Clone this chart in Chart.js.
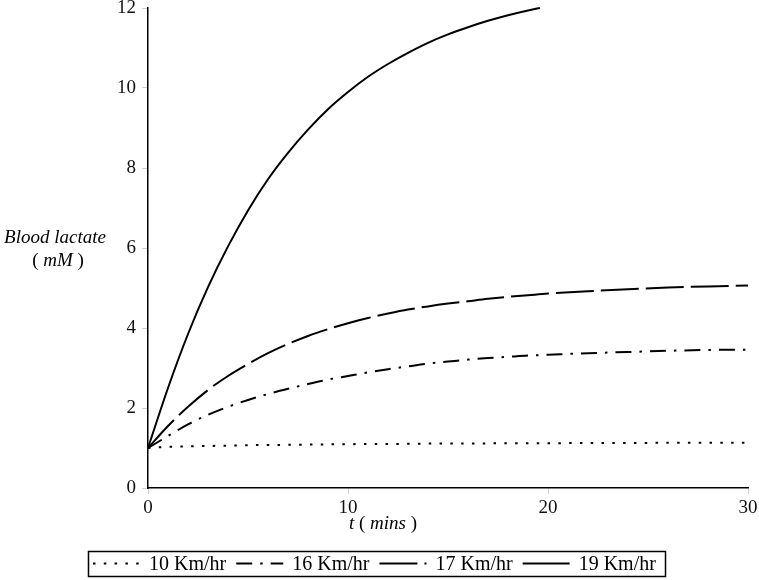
<!DOCTYPE html>
<html>
<head>
<meta charset="utf-8">
<script src="https://cdn.jsdelivr.net/npm/chart.js@4.4.1/dist/chart.umd.min.js"></script>
<style>
  html, body { margin: 0; padding: 0; background: #fff; }
  #wrap { width: 759px; height: 580px; }
</style>
</head>
<body>
<div id="wrap"><canvas id="lactateChart" width="759" height="580"></canvas></div>
<script>
// time points (mins)
const timeSlow = [0, 1, 2, 3, 4, 5, 6, 7, 8, 9, 10, 11, 12, 13, 14, 15, 16, 17, 18, 19, 20, 22, 24, 26, 28, 30];
const timeFast = [0, 1, 2, 3, 4, 5, 6, 7, 8, 9, 10, 11, 12, 13, 14, 15, 16, 17, 18, 19, 19.6];

// blood lactate (mM)
const lactate10 = [1.0, 1.03, 1.04, 1.05, 1.06, 1.07, 1.075, 1.08, 1.085, 1.09, 1.095, 1.1, 1.1, 1.105, 1.11, 1.11, 1.115, 1.115, 1.12, 1.12, 1.12, 1.125, 1.125, 1.13, 1.13, 1.13];
const lactate16 = [1.0, 1.3, 1.59, 1.83, 2.03, 2.2, 2.35, 2.48, 2.6, 2.71, 2.8, 2.89, 2.97, 3.04, 3.11, 3.16, 3.21, 3.25, 3.28, 3.31, 3.33, 3.37, 3.4, 3.43, 3.45, 3.46];
const lactate17 = [1.0, 1.55, 2.03, 2.45, 2.8, 3.1, 3.37, 3.6, 3.8, 3.97, 4.12, 4.25, 4.36, 4.46, 4.54, 4.61, 4.67, 4.73, 4.78, 4.82, 4.86, 4.92, 4.97, 5.01, 5.04, 5.06];
const lactate19 = [1.0, 2.5, 3.85, 5.02, 6.04, 6.94, 7.72, 8.38, 8.96, 9.47, 9.9, 10.28, 10.6, 10.88, 11.13, 11.34, 11.52, 11.68, 11.82, 11.94, 12.0];

const seriesLabels = ["10 Km/hr", "16 Km/hr", "17 Km/hr", "19 Km/hr"];
const xTicks = [0, 10, 20, 30];
const yTicks = [0, 2, 4, 6, 8, 10, 12];

const SERIF = "'Liberation Serif', 'DejaVu Serif', serif";

function toPoints(xs, ys) {
  return xs.map((x, i) => ({ x: x, y: ys[i] }));
}

function makeSet(label, xs, ys, dash) {
  return {
    label: label,
    data: toPoints(xs, ys),
    borderColor: "#000",
    borderWidth: 2,
    borderDash: dash,
    borderCapStyle: "butt",
    pointRadius: 0,
    fill: false,
    cubicInterpolationMode: "monotone",
    clip: false
  };
}

// titles + boxed legend with line samples
const decorations = {
  id: "decorations",
  afterDraw(chart) {
    const ctx = chart.ctx;
    ctx.save();
    ctx.fillStyle = "#000";

    // y title
    ctx.textAlign = "center";
    ctx.textBaseline = "alphabetic";
    ctx.font = "italic 19px " + SERIF;
    ctx.fillText("Blood lactate", 55, 243);
    drawParts(ctx, [["( ", "19px"], ["mM", "italic 19px"], [" )", "19px"]], 58, 266);

    // x title
    drawParts(ctx, [["t", "italic 19px"], [" ( ", "19px"], ["mins", "italic 19px"], [" )", "19px"]], 383, 529);

    // legend
    const cy = 563.5;
    ctx.lineWidth = 1.5;
    ctx.strokeStyle = "#000";
    ctx.setLineDash([]);
    ctx.strokeRect(88.5, 551.5, 577, 25);

    let x = 93;
    ctx.font = "20px " + SERIF;
    ctx.textAlign = "left";
    ctx.textBaseline = "middle";
    chart.data.datasets.forEach(ds => {
      ctx.beginPath();
      ctx.lineWidth = 2;
      ctx.lineCap = "butt";
      ctx.setLineDash(ds.borderDash || []);
      ctx.moveTo(x, cy);
      ctx.lineTo(x + 47, cy);
      ctx.stroke();
      ctx.setLineDash([]);
      ctx.fillText(ds.label, x + 56, cy + 1);
      x += 56 + ctx.measureText(ds.label).width + 10;
    });
    ctx.restore();
  }
};

// draws a run of text pieces centred on cx
function drawParts(ctx, parts, cx, y) {
  let total = 0;
  parts.forEach(p => {
    ctx.font = p[1] + " " + SERIF;
    total += ctx.measureText(p[0]).width;
  });
  let x = cx - total / 2;
  ctx.textAlign = "left";
  parts.forEach(p => {
    ctx.font = p[1] + " " + SERIF;
    ctx.fillText(p[0], x, y);
    x += ctx.measureText(p[0]).width;
  });
  ctx.textAlign = "center";
}

const ctx = document.getElementById("lactateChart");

new Chart(ctx, {
  type: "line",
  data: {
    datasets: [
      makeSet(seriesLabels[0], timeSlow, lactate10, [2.5, 8.3]),
      makeSet(seriesLabels[1], timeSlow, lactate16, [16, 8, 2.5, 8]),
      makeSet(seriesLabels[2], timeSlow, lactate17, [38, 7]),
      makeSet(seriesLabels[3], timeFast, lactate19, [])
    ]
  },
  options: {
    responsive: false,
    animation: false,
    layout: { padding: { top: 8, right: 11, left: 0, bottom: 0 } },
    plugins: {
      legend: { display: false },
      tooltip: { enabled: false }
    },
    scales: {
      x: {
        type: "linear",
        min: 0,
        max: 30,
        afterFit: s => { s.height = 92; s.paddingLeft = 0; s.paddingRight = 0; },
        afterBuildTicks: s => { s.ticks = xTicks.map(v => ({ value: v })); },
        grid: { drawOnChartArea: false, drawTicks: true, tickLength: 6, color: "#d0d0d0" },
        border: { color: "#000", width: 1.5 },
        ticks: { font: { family: SERIF, size: 19 }, color: "#111", padding: 3, maxRotation: 0 }
      },
      y: {
        min: 0,
        max: 12,
        afterFit: s => { s.width = 148; s.paddingTop = 0; s.paddingBottom = 0; },
        afterBuildTicks: s => { s.ticks = yTicks.map(v => ({ value: v })); },
        grid: { drawOnChartArea: false, drawTicks: true, tickLength: 6, color: "#d0d0d0" },
        border: { color: "#000", width: 1.5 },
        ticks: { font: { family: SERIF, size: 19 }, color: "#111", padding: 6 }
      }
    }
  },
  plugins: [decorations]
});
</script>
</body>
</html>
